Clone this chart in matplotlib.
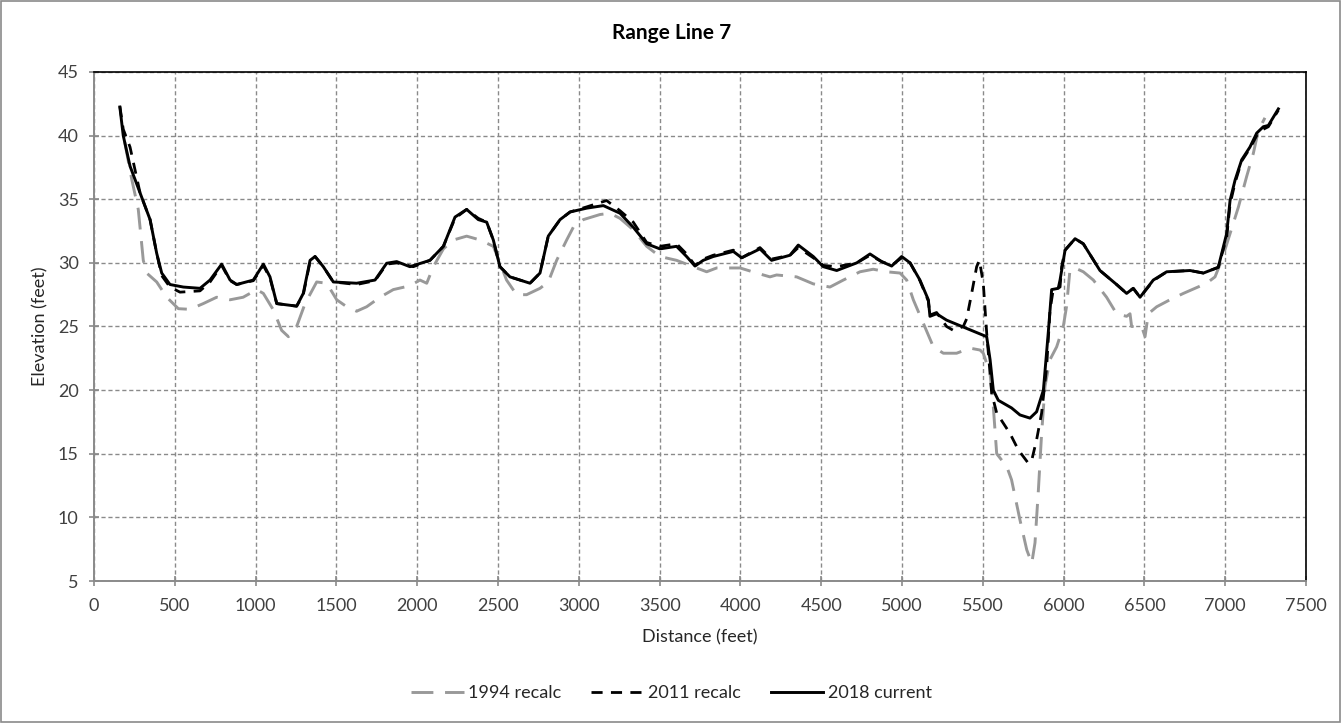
import matplotlib
matplotlib.use("Agg")
import matplotlib.pyplot as plt
from matplotlib.patches import Rectangle

plt.rcParams['font.family'] = ['Lato', 'DejaVu Sans']

# --- Cross-section survey data (distance ft, elevation ft) ---
dist_1994 = [190, 233, 274, 305, 326, 388, 450, 522, 594, 676, 759, 842, 923, 1007,
             1048, 1110, 1161, 1203, 1254, 1306, 1378, 1440, 1502, 1564, 1625, 1687,
             1770, 1852, 1955, 2017, 2059, 2100, 2162, 2224, 2306, 2389, 2471, 2512,
             2553, 2615, 2677, 2760, 2811, 2863, 2925, 2966, 3028, 3131, 3193, 3255,
             3337, 3420, 3502, 3605, 3708, 3791, 3853, 3998, 4101, 4183, 4224, 4348,
             4451, 4554, 4637, 4740, 4822, 4905, 4988, 5029, 5070, 5132, 5194, 5256,
             5338, 5421, 5483, 5503, 5545, 5565, 5586, 5648, 5678, 5730, 5772, 5803,
             5823, 5844, 5864, 5885, 5916, 5957, 5998, 6018, 6039, 6071, 6122, 6184,
             6266, 6328, 6390, 6411, 6421, 6483, 6504, 6524, 6576, 6658, 6741, 6885,
             6937, 6978, 7030, 7082, 7133, 7174, 7205, 7246]
elev_1994 = [39.5, 36.6, 34.2, 30.2, 29.2, 28.5, 27.3, 26.4, 26.35, 26.8, 27.3, 27.1,
             27.3, 27.9, 27.6, 26.3, 24.7, 24.2, 25.0, 26.8, 28.5, 28.4, 27.1, 26.55,
             26.2, 26.55, 27.3, 27.9, 28.2, 28.65, 28.4, 29.7, 31.1, 31.8, 32.1, 31.8,
             31.3, 30.0, 28.65, 27.5, 27.5, 28.0, 28.5, 30.2, 31.8, 32.8, 33.4, 33.8,
             33.9, 33.5, 32.6, 31.3, 30.5, 30.2, 29.7, 29.3, 29.6, 29.6, 29.2, 28.9,
             29.05, 28.9, 28.35, 28.1, 28.65, 29.3, 29.5, 29.3, 29.2, 28.65, 27.1,
             25.25, 23.4, 22.9, 22.9, 23.3, 23.15, 22.9, 21.3, 18.7, 15.0, 14.0, 12.95,
             9.8, 7.45, 6.4, 8.0, 12.15, 16.6, 20.3, 22.4, 23.4, 25.0, 26.55, 29.4,
             29.6, 29.3, 28.65, 27.3, 26.0, 25.8, 26.0, 25.0, 25.0, 24.2, 26.0, 26.55,
             27.1, 27.6, 28.4, 28.9, 30.2, 32.3, 34.4, 36.8, 38.6, 40.4, 41.4]

dist_2011 = [160, 181, 223, 254, 285, 347, 388, 419, 470, 532, 656, 718, 790, 842,
             883, 986, 1048, 1089, 1131, 1254, 1295, 1337, 1368, 1419, 1481, 1625,
             1739, 1811, 1873, 1976, 2079, 2162, 2234, 2306, 2378, 2430, 2471, 2512,
             2574, 2698, 2760, 2811, 2884, 2946, 3049, 3172, 3255, 3337, 3420, 3502,
             3605, 3667, 3719, 3770, 3832, 3956, 4008, 4121, 4193, 4307, 4358, 4451,
             4513, 4596, 4720, 4802, 4874, 4936, 4998, 5050, 5111, 5163, 5173, 5214,
             5276, 5317, 5379, 5400, 5431, 5462, 5479, 5503, 5524, 5555, 5586, 5668,
             5720, 5782, 5803, 5833, 5864, 5895, 5916, 5936, 5978, 5988, 6009, 6071,
             6122, 6225, 6328, 6390, 6431, 6473, 6555, 6638, 6782, 6865, 6957, 7009,
             7030, 7061, 7102, 7153, 7195, 7236, 7267, 7329]
elev_2011 = [42.3, 40.5, 39.1, 37.3, 35.5, 33.4, 30.75, 29.0, 28.1, 27.7, 27.8, 28.5,
             29.8, 28.6, 28.3, 28.6, 29.8, 28.8, 26.8, 26.6, 27.5, 30.1, 30.5, 29.7,
             28.5, 28.3, 28.6, 29.9, 30.0, 29.7, 30.2, 31.3, 33.5, 34.2, 33.5, 33.2,
             31.8, 29.7, 28.9, 28.4, 29.2, 32.1, 33.4, 34.0, 34.4, 34.9, 34.1, 33.2,
             31.6, 31.3, 31.5, 30.7, 29.8, 30.3, 30.6, 31.0, 30.4, 31.2, 30.3, 30.6,
             31.2, 30.4, 29.8, 29.7, 30.0, 30.6, 30.1, 29.8, 30.4, 30.0, 28.6, 27.0,
             25.9, 26.1, 25.0, 24.7, 25.0, 25.6, 27.6, 29.7, 30.2, 28.4, 24.5, 19.75,
             18.2, 16.6, 15.3, 14.25, 14.5, 16.1, 18.2, 21.8, 26.3, 27.9, 28.1, 29.7,
             31.0, 31.9, 31.5, 29.4, 28.3, 27.6, 28.0, 27.3, 28.6, 29.3, 29.4, 29.2,
             29.65, 32.0, 34.6, 36.3, 38.0, 39.0, 40.0, 40.5, 40.7, 42.0]

dist_2018 = [160, 181, 223, 285, 347, 388, 419, 470, 553, 656, 718, 790, 842, 883,
             986, 1048, 1089, 1131, 1254, 1295, 1337, 1368, 1419, 1481, 1625, 1739,
             1811, 1873, 1955, 2079, 2162, 2234, 2306, 2378, 2430, 2471, 2512, 2574,
             2698, 2760, 2811, 2884, 2946, 3049, 3152, 3255, 3337, 3420, 3502, 3605,
             3667, 3719, 3770, 3832, 3956, 4008, 4121, 4193, 4307, 4358, 4451, 4513,
             4596, 4720, 4802, 4874, 4936, 4998, 5050, 5111, 5163, 5173, 5214, 5276,
             5524, 5545, 5565, 5596, 5678, 5730, 5792, 5833, 5875, 5905, 5926, 5967,
             5978, 6009, 6071, 6122, 6225, 6328, 6390, 6431, 6473, 6555, 6638, 6782,
             6865, 6957, 7009, 7030, 7061, 7102, 7153, 7195, 7236, 7267, 7329]
elev_2018 = [42.25, 40.0, 37.6, 35.5, 33.4, 30.75, 29.2, 28.3, 28.1, 28.0, 28.65,
             29.9, 28.65, 28.3, 28.65, 29.9, 28.9, 26.8, 26.6, 27.6, 30.2, 30.5, 29.7,
             28.5, 28.4, 28.65, 29.97, 30.1, 29.7, 30.2, 31.3, 33.6, 34.2, 33.4, 33.2,
             31.8, 29.7, 28.9, 28.4, 29.2, 32.1, 33.4, 34.0, 34.3, 34.5, 33.9, 32.8,
             31.5, 31.1, 31.3, 30.5, 29.75, 30.2, 30.5, 30.9, 30.4, 31.1, 30.2, 30.6,
             31.4, 30.5, 29.7, 29.4, 30.0, 30.7, 30.1, 29.75, 30.5, 30.0, 28.65, 27.1,
             25.8, 26.0, 25.5, 24.2, 22.4, 20.0, 19.2, 18.6, 18.05, 17.8, 18.3, 20.0,
             24.5, 27.9, 28.0, 28.65, 31.0, 31.9, 31.5, 29.4, 28.3, 27.6, 28.0, 27.3,
             28.65, 29.3, 29.4, 29.2, 29.65, 32.3, 34.9, 36.5, 38.1, 39.1, 40.2, 40.7,
             40.8, 42.1]

series_labels = ["1994 recalc", "2011 recalc", "2018 current"]
x_ticks = list(range(0, 7501, 500))
y_ticks = list(range(5, 46, 5))

fig = plt.figure(figsize=(13.43, 7.23), dpi=100)
ax = fig.add_axes([94 / 1343, 1 - 581 / 723, 1212 / 1343, 509 / 723])

ax.plot(dist_1994, elev_1994, color="#999999", lw=2.1, dashes=(7.5, 4),
        label=series_labels[0], zorder=3)
ax.plot(dist_2011, elev_2011, color="black", lw=2.0, dashes=(4, 3),
        label=series_labels[1], zorder=4)
ax.plot(dist_2018, elev_2018, color="black", lw=2.1, label=series_labels[2], zorder=5)

ax.set_xlim(0, 7500)
ax.set_ylim(5, 45)
ax.set_xticks(x_ticks)
ax.set_yticks(y_ticks)
ax.grid(True, color="#8a8a8a", linestyle=(0, (3, 2)), linewidth=1.0, zorder=0)
ax.set_axisbelow(True)

for side in ("top", "right"):
    ax.spines[side].set_color("black")
    ax.spines[side].set_linewidth(1.2)
for side in ("left", "bottom"):
    ax.spines[side].set_color("#8a8a8a")
    ax.spines[side].set_linewidth(1.4)

ax.tick_params(direction="inout", length=7, width=1.2, color="#8a8a8a",
               labelsize=13, labelcolor="#404040")
ax.tick_params(axis="x", pad=9)
ax.tick_params(axis="y", pad=7.5)

# Chart title, centred on the whole chart area
fig.text(0.5, 1 - 33 / 723, "Range Line 7", fontsize=15, fontweight="bold",
         ha="center", va="center")
ax.set_xlabel("Distance (feet)", fontsize=13, labelpad=11, color="#262626")
ax.set_ylabel("Elevation (feet)", fontsize=13, labelpad=7, color="#262626")

leg = ax.legend(loc="center", bbox_to_anchor=((671.5 - 94) / 1212, -0.220), ncol=3,
                frameon=False, fontsize=13, handlelength=2.9, columnspacing=1.65,
                handletextpad=0.25)
for txt in leg.get_texts():
    txt.set_color("#262626")

# Outer chart border
fig.patches.append(Rectangle((0.001, 0.002), 0.997, 0.996, transform=fig.transFigure,
                             fill=False, edgecolor="#8a8a8a", linewidth=1.2))

fig.savefig("out.png", dpi=100)
